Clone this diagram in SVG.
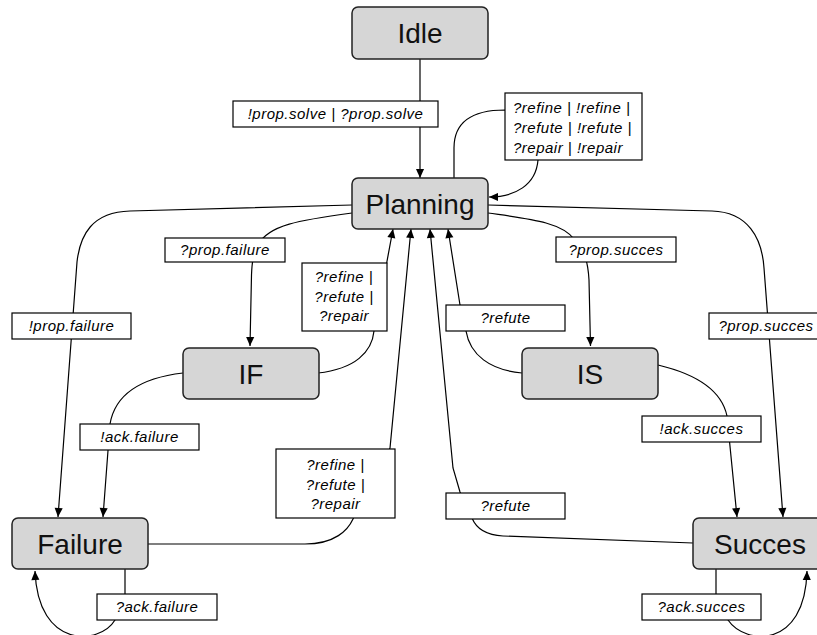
<svg xmlns="http://www.w3.org/2000/svg" width="817" height="635" viewBox="0 0 817 635">
<defs>
<marker id="arr" viewBox="0 0 10 10" refX="10" refY="5" markerWidth="10" markerHeight="9" markerUnits="userSpaceOnUse" orient="auto">
<path d="M0,0.5 L10,5 L0,9.5 z" fill="#000"/>
</marker>
<style>
.node rect{fill:#d6d6d6;stroke:#222;stroke-width:1.5}
.node text{font-family:"Liberation Sans",Arial,sans-serif;font-size:28px;fill:#111;text-anchor:middle}
.edge{fill:none;stroke:#000;stroke-width:1.2}
.arr{marker-end:url(#arr)}
.lbl rect{fill:#fff;stroke:#000;stroke-width:1.2}
.lbl text{font-family:"Liberation Sans",Arial,sans-serif;font-size:15px;font-style:italic;letter-spacing:0.5px;fill:#000;text-anchor:middle}
</style>
</defs>
<rect width="817" height="635" fill="#fff"/>
<g id="connectors">
<path class="edge arr" d="M420,59 L420,178"/>
<path class="edge arr" d="M454,178 V148 C454,122 472,110 505,110 L538,140 L538,160 C536,185 515,197 489,197"/>
<path class="edge arr" d="M352,205 L130,211 C92,212 80,235 77,262 L58,517"/>
<path class="edge arr" d="M352,213 C300,220 268,225 258,245 C253,255 252,262 251.5,275 L250,346"/>
<path class="edge arr" d="M318,373 C355,369 372,352 374,331 L393,229"/>
<path class="edge arr" d="M148,544 H305 C335,544 348,530 353,519 L390,448 L411,229"/>
<path class="edge arr" d="M488,205 L712,211 C748,212 762,238 764,268 L783,517"/>
<path class="edge arr" d="M488,213 C530,219 562,222 575,240 C585,252 588,262 589,280 L590.5,346"/>
<path class="edge arr" d="M522,373 C490,370 470,355 466,331 L460,305 L448,229"/>
<path class="edge arr" d="M693,543 L503,536 C485,535 476,528 472,518 L460,492 L453,468 L430,229"/>
<path class="edge arr" d="M658,365 C700,375 722,392 727,416 L737,517"/>
<path class="edge arr" d="M716,569 L716,594 L728,620 C745,645 805,650 807,571"/>
<path class="edge arr" d="M125,569 L125,594 L115,620 C100,645 38,650 35,571"/>
<path class="edge arr" d="M183,373 C140,378 115,395 110,424 L103,517"/>
</g>
<g id="labels">
<g class="lbl"><rect x="233" y="101" width="205" height="26"/><text x="335.5" y="119">!prop.solve | ?prop.solve</text></g>
<g class="lbl"><rect x="505" y="93" width="137" height="67"/><text x="513" y="113" style="text-anchor:start">?refine | !refine |</text><text x="513" y="133" style="text-anchor:start">?refute | !refute |</text><text x="513" y="153" style="text-anchor:start">?repair | !repair</text></g>
<g class="lbl"><rect x="165" y="238" width="120" height="24"/><text x="225" y="255">?prop.failure</text></g>
<g class="lbl"><rect x="12" y="313" width="119" height="26"/><text x="71.5" y="331">!prop.failure</text></g>
<g class="lbl"><rect x="302" y="263" width="85" height="68"/><text x="344" y="282">?refine |</text><text x="344" y="302">?refute |</text><text x="344" y="321">?repair</text></g>
<g class="lbl"><rect x="446" y="305" width="119" height="26"/><text x="505.5" y="323">?refute</text></g>
<g class="lbl"><rect x="556" y="237" width="120" height="25"/><text x="616" y="255">?prop.succes</text></g>
<g class="lbl"><rect x="709" y="313" width="120" height="26"/><text x="766" y="331">?prop.succes</text></g>
<g class="lbl"><rect x="80" y="424" width="119" height="26"/><text x="139.5" y="442">!ack.failure</text></g>
<g class="lbl"><rect x="642" y="416" width="119" height="26"/><text x="701.5" y="434">!ack.succes</text></g>
<g class="lbl"><rect x="276" y="449" width="119" height="69"/><text x="335.5" y="470">?refine |</text><text x="335.5" y="490">?refute |</text><text x="335.5" y="509">?repair</text></g>
<g class="lbl"><rect x="446" y="493" width="119" height="26"/><text x="505.5" y="511">?refute</text></g>
<g class="lbl"><rect x="97" y="594" width="120" height="26"/><text x="157" y="612">?ack.failure</text></g>
<g class="lbl"><rect x="642" y="594" width="119" height="26"/><text x="701.5" y="612">?ack.succes</text></g>
</g>
<g id="idle" class="node"><rect x="352" y="7" width="136" height="52" rx="6"/><text x="420" y="43">Idle</text></g>
<g id="planning" class="node"><rect x="352" y="178" width="136" height="51" rx="6"/><text x="420" y="213.5">Planning</text></g>
<g id="if" class="node"><rect x="183" y="348" width="136" height="51" rx="6"/><text x="251" y="383.5">IF</text></g>
<g id="is" class="node"><rect x="522" y="348" width="136" height="51" rx="6"/><text x="590" y="383.5">IS</text></g>
<g id="failure" class="node"><rect x="12" y="518" width="136" height="51" rx="6"/><text x="80" y="553.5">Failure</text></g>
<g id="succes" class="node"><rect x="693" y="518" width="136" height="51" rx="6"/><text x="760" y="553.5">Succes</text></g>
</svg>
